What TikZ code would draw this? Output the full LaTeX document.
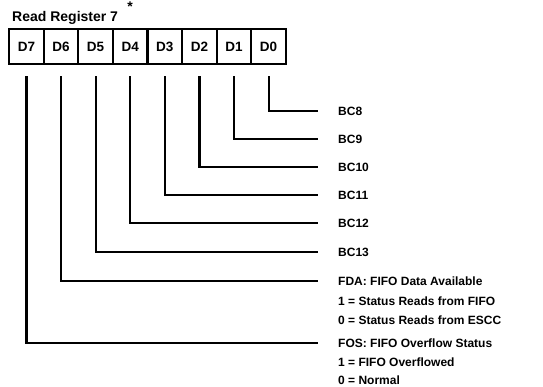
\documentclass[tikz,border=0pt]{standalone}
\usepackage{fontspec}
\setmainfont{Liberation Sans}
\begin{document}
\begin{tikzpicture}[x=1pt,y=-1pt,
  cell/.style={draw,line width=2.2pt,minimum width=34.6pt,minimum height=35pt,inner sep=0pt,font=\fontsize{13.5}{15}\selectfont\bfseries,anchor=north west},
  lbl/.style={anchor=west,inner sep=0pt,font=\fontsize{12}{14}\selectfont\bfseries},
  wire/.style={line width=2.2pt}]
\useasboundingbox (0,0) rectangle (543,386);
\node[anchor=base west,inner sep=0pt,font=\fontsize{14}{15}\selectfont\bfseries] (title) at (12,21) {Read Register 7};
\node[inner sep=0pt,font=\fontsize{14}{14}\selectfont\bfseries] (star) at (130,7) {*};
\foreach \n [count=\i from 0] in {7,6,5,4,3,2,1,0}{
  \node[cell] (d\n) at ({8+34.6*\i},28) {D\n};
}
\node[lbl] (bc8) at (338,111) {BC8};
\node[lbl] (bc9) at (338,139) {BC9};
\node[lbl] (bc10) at (338,167) {BC10};
\node[lbl] (bc11) at (338,195) {BC11};
\node[lbl] (bc12) at (338,223) {BC12};
\node[lbl] (bc13) at (338,252) {BC13};
\node[lbl] (fda) at (338,281) {FDA: FIFO Data Available};
\node[lbl] (fda1) at (338,301) {1 = Status Reads from FIFO};
\node[lbl] (fda0) at (338,320) {0 = Status Reads from ESCC};
\node[lbl] (fos) at (338,343) {FOS: FIFO Overflow Status};
\node[lbl] (fos1) at (338,362) {1 = FIFO Overflowed};
\node[lbl] (fos0) at (338,380.5) {0 = Normal};
\foreach \a/\b in {d0/bc8,d1/bc9,d2/bc10,d3/bc11,d4/bc12,d5/bc13,d6/fda,d7/fos}{
  \draw[wire] ([yshift=-11pt]\a.south) |- ([xshift=-20pt]\b.west);
}
\end{tikzpicture}
\end{document}
